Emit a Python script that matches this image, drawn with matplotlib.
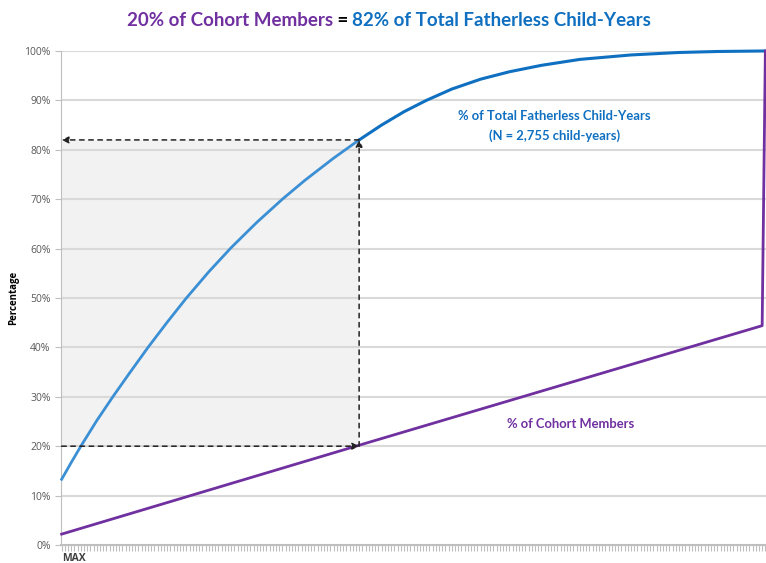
import matplotlib.pyplot as plt

# categories (members sorted by fatherless child-years, first = MAX)
n_cat = 221
first_label = "MAX"

# % of total fatherless child-years (cumulative), read at category index
blue_idx = [0, 3, 6, 11, 16, 21, 27, 33, 39, 46, 53, 61, 69, 76, 85, 93,
            100, 107, 114, 122, 131, 140, 150, 162, 178, 193, 205, 219, 220]
blue_pct = [13.3, 16.7, 20.0, 25.2, 30.0, 34.6, 40.0, 45.1, 50.0, 55.3, 60.2, 65.3, 70.0, 73.8, 78.3, 82.0,
            85.0, 87.7, 90.0, 92.3, 94.3, 95.8, 97.1, 98.3, 99.2, 99.7, 99.9, 100, 100]

# % of cohort members (cumulative)
purple_idx = [0, 93, 219, 220]
purple_pct = [2.2, 20.2, 44.4, 100]

mark_idx = 93
mark_low = 20
mark_high = 82

yticks = [0, 10, 20, 30, 40, 50, 60, 70, 80, 90, 100]

BLUE = '#0f6fc0'
BLUE_LIGHT = '#3b8fd4'
PURPLE = '#7030a0'
GRID = '#d9d9d9'
TXT = '#595959'

W, H = 766, 563
fig = plt.figure(figsize=(W / 100, H / 100), dpi=100)
ax = fig.add_axes([61 / W, 18 / H, 705 / W, 494 / H])

ax.set_xlim(-0.2, n_cat - 0.8)
ax.set_ylim(0, 100)

# shaded box and gridlines
ax.fill_between([0, mark_idx], mark_low, mark_high, color='#f2f2f2', zorder=0, lw=0)
for y in yticks[1:]:
    ax.axhline(y, color=GRID, lw=1.5, zorder=1)

# lines
k = blue_idx.index(mark_idx)
ax.plot(blue_idx[:k + 1], blue_pct[:k + 1], color=BLUE_LIGHT, lw=2, zorder=3, clip_on=False)
ax.plot(blue_idx[k:], blue_pct[k:], color=BLUE, lw=2.2, zorder=3, clip_on=False)
ax.plot(purple_idx, purple_pct, color=PURPLE, lw=2, zorder=3, clip_on=False)

# dashed arrows
arrow = dict(arrowstyle='-|>', linestyle=(0, (3, 3)), color='#222222', lw=1.1,
             mutation_scale=10, shrinkA=0, shrinkB=0)
ax.annotate('', xy=(mark_idx, mark_low), xytext=(0, mark_low), arrowprops=arrow, zorder=4)
ax.annotate('', xy=(mark_idx, mark_high), xytext=(mark_idx, mark_low), arrowprops=arrow, zorder=4)
ax.annotate('', xy=(0, mark_high), xytext=(mark_idx, mark_high), arrowprops=arrow, zorder=4)

# axes styling
for s in ['top', 'right']:
    ax.spines[s].set_visible(False)
ax.spines['left'].set_color('#bfbfbf')
ax.spines['bottom'].set_color('#bfbfbf')
ax.spines['bottom'].set_linewidth(1.5)
ax.set_yticks(yticks)
ax.set_yticklabels([f'{v}%' for v in yticks], fontsize=7.5, color=TXT, family='Open Sans')
ax.tick_params(axis='y', length=4, color='#bfbfbf')
ax.set_xticks(range(n_cat))
ax.set_xticklabels([''] * n_cat)
ax.tick_params(axis='x', length=4, color='#bfbfbf', width=0.8)
ax.text(0, -1.6, first_label, ha='left', va='top', fontsize=7.5, color='#404040',
        family='Open Sans', fontweight='bold')

fig.text(14 / W, 1 - 298 / H, 'Percentage', rotation=90, ha='center', va='center',
         fontsize=7, fontweight='bold', family='Open Sans')

# labels inside plot
ax.text(154, 86.9, '% of Total Fatherless Child-Years', color=BLUE, ha='center', va='center',
        fontsize=9.4, fontweight='bold', family='Lato')
ax.text(154, 82.8, '(N = 2,755 child-years)', color=BLUE, ha='center', va='center',
        fontsize=9.4, fontweight='bold', family='Lato')
ax.text(159, 24.5, '% of Cohort Members', color=PURPLE, ha='center', va='center',
        fontsize=9.4, fontweight='bold', family='Lato')

# title with three colours
parts = [('20% of Cohort Members', PURPLE), (' = ', '#000000'), ('82% of Total Fatherless Child-Years', BLUE)]
fig.canvas.draw()
r = fig.canvas.get_renderer()
texts = []
for s, c in parts:
    t = fig.text(0, 1 - 20 / H, s, color=c, fontsize=13.5, fontweight='bold', family='Lato',
                 ha='left', va='center')
    texts.append(t)
widths = [t.get_window_extent(r).width for t in texts]
x = (389 - sum(widths) / 2)
for t, w in zip(texts, widths):
    t.set_x(x / W)
    x += w

fig.savefig('out.png', dpi=100)
